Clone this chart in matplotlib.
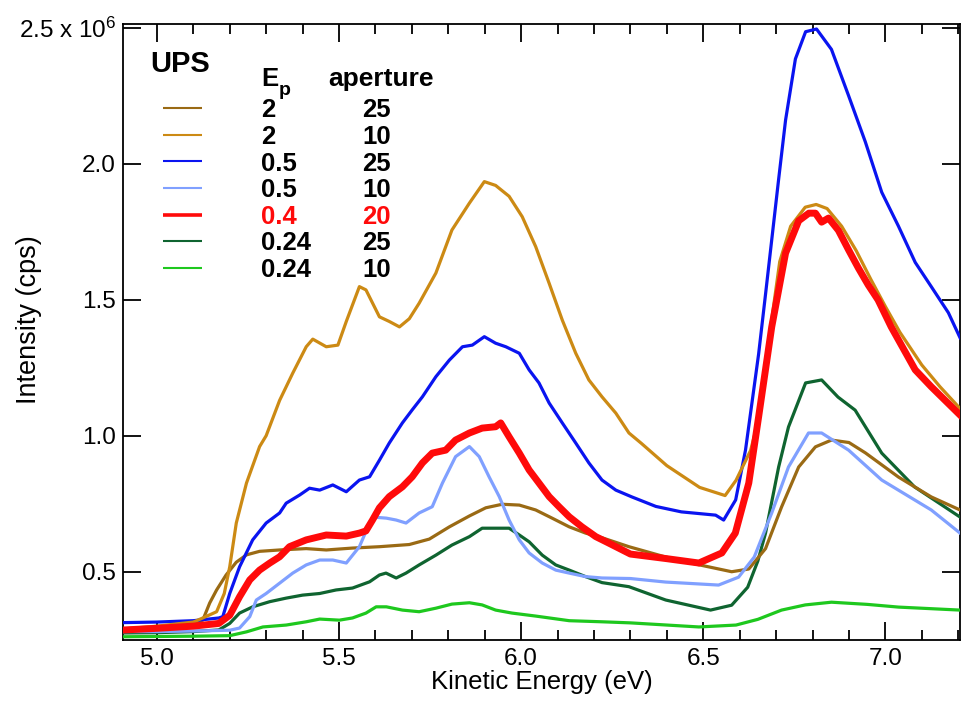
import matplotlib
matplotlib.use("Agg")
import matplotlib.pyplot as plt
from matplotlib.ticker import MultipleLocator, FixedLocator, FixedFormatter

plt.rcParams['font.family'] = ['Liberation Sans', 'DejaVu Sans']
plt.rcParams['mathtext.default'] = 'regular'

# ---- data (intensity in units of 1e6 cps) ----
brown_x = [4.91, 5.0, 5.1, 5.126, 5.145, 5.164, 5.19, 5.218, 5.246, 5.282, 5.337, 5.41,
           5.465, 5.537, 5.611, 5.693, 5.748, 5.803, 5.858, 5.903, 5.948, 5.995, 6.04,
           6.085, 6.132, 6.177, 6.222, 6.296, 6.397, 6.49, 6.578, 6.625, 6.671, 6.715,
           6.762, 6.808, 6.852, 6.9, 6.945, 7.036, 7.126, 7.205]
brown_y = [0.29, 0.295, 0.31, 0.322, 0.385, 0.433, 0.488, 0.535, 0.562, 0.575, 0.58, 0.585,
           0.58, 0.587, 0.592, 0.600, 0.62, 0.665, 0.705, 0.735, 0.748, 0.745, 0.727,
           0.697, 0.665, 0.642, 0.625, 0.592, 0.554, 0.525, 0.5, 0.51, 0.585, 0.738,
           0.885, 0.959, 0.984, 0.975, 0.937, 0.848, 0.775, 0.727]

gold_x = [4.91, 5.0, 5.1, 5.126, 5.164, 5.185, 5.2, 5.218, 5.246, 5.282, 5.30, 5.337,
          5.373, 5.41, 5.428, 5.465, 5.497, 5.52, 5.556, 5.574, 5.611, 5.638, 5.666,
          5.693, 5.72, 5.766, 5.81, 5.858, 5.899, 5.93, 5.967, 6.003, 6.04, 6.077, 6.113,
          6.15, 6.186, 6.222, 6.26, 6.296, 6.33, 6.40, 6.49, 6.56, 6.59, 6.63, 6.65, 6.68,
          6.71, 6.74, 6.78, 6.81, 6.84, 6.88, 6.92, 6.96, 7.0, 7.04, 7.1, 7.15, 7.205]
gold_y = [0.29, 0.30, 0.315, 0.33, 0.353, 0.42, 0.518, 0.679, 0.826, 0.96, 1.0, 1.13,
          1.23, 1.327, 1.355, 1.327, 1.333, 1.42, 1.548, 1.536, 1.437, 1.42, 1.40,
          1.43, 1.487, 1.598, 1.756, 1.855, 1.934, 1.92, 1.88, 1.805, 1.695, 1.56, 1.425,
          1.303, 1.205, 1.143, 1.083, 1.01, 0.972, 0.89, 0.81, 0.78, 0.836, 0.946, 1.05,
          1.35, 1.64, 1.77, 1.84, 1.85, 1.835, 1.77, 1.68, 1.575, 1.475, 1.38, 1.26,
          1.18, 1.10]

blue_x = [4.91, 5.0, 5.1, 5.17, 5.181, 5.2, 5.227, 5.263, 5.30, 5.337, 5.355, 5.392,
          5.419, 5.447, 5.483, 5.52, 5.556, 5.584, 5.611, 5.638, 5.674, 5.701, 5.729,
          5.766, 5.803, 5.839, 5.866, 5.899, 5.93, 5.958, 5.995, 6.022, 6.049, 6.077,
          6.113, 6.15, 6.186, 6.222, 6.26, 6.304, 6.37, 6.44, 6.534, 6.556, 6.589, 6.616,
          6.652, 6.671, 6.707, 6.726, 6.753, 6.781, 6.811, 6.852, 6.899, 6.945, 6.99,
          7.036, 7.082, 7.126, 7.173, 7.205]
blue_y = [0.313, 0.315, 0.32, 0.33, 0.335, 0.42, 0.518, 0.617, 0.679, 0.716, 0.752, 0.782,
          0.807, 0.80, 0.819, 0.794, 0.837, 0.849, 0.91, 0.973, 1.047, 1.095, 1.143,
          1.217, 1.278, 1.327, 1.333, 1.364, 1.34, 1.327, 1.303, 1.242, 1.194, 1.12,
          1.047, 0.973, 0.90, 0.837, 0.80, 0.775, 0.74, 0.72, 0.708, 0.69, 0.764, 0.947,
          1.30, 1.52, 1.943, 2.16, 2.385, 2.485, 2.495, 2.42, 2.25, 2.08, 1.895,
          1.77, 1.637, 1.548, 1.452, 1.36]

lblue_x = [4.91, 5.0, 5.1, 5.2, 5.227, 5.255, 5.273, 5.30, 5.337, 5.373, 5.41, 5.447,
           5.483, 5.52, 5.556, 5.584, 5.602, 5.63, 5.657, 5.684, 5.72, 5.756, 5.784, 5.82,
           5.858, 5.885, 5.912, 5.94, 5.967, 5.995, 6.022, 6.058, 6.095, 6.132, 6.177,
           6.222, 6.30, 6.397, 6.542, 6.597, 6.64, 6.688, 6.734, 6.789, 6.825, 6.899,
           6.99, 7.126, 7.205]
lblue_y = [0.28, 0.28, 0.282, 0.285, 0.293, 0.335, 0.396, 0.42, 0.458, 0.495, 0.525, 0.543,
           0.543, 0.532, 0.592, 0.679, 0.70, 0.697, 0.69, 0.679, 0.716, 0.739, 0.826, 0.923,
           0.96, 0.923, 0.849, 0.776, 0.69, 0.617, 0.569, 0.532, 0.506, 0.495, 0.482,
           0.477, 0.475, 0.462, 0.451, 0.48, 0.554, 0.716, 0.885, 1.01, 1.01, 0.947,
           0.837, 0.727, 0.642]

red_x = [4.91, 5.0, 5.1, 5.17, 5.2, 5.227, 5.255, 5.282, 5.31, 5.337, 5.364, 5.41,
         5.465, 5.52, 5.556, 5.574, 5.592, 5.611, 5.638, 5.674, 5.701, 5.729, 5.756,
         5.793, 5.82, 5.858, 5.893, 5.93, 5.944, 5.967, 5.995, 6.022, 6.049, 6.077,
         6.104, 6.132, 6.167, 6.205, 6.241, 6.30, 6.40, 6.488, 6.551, 6.588, 6.625,
         6.652, 6.688, 6.726, 6.762, 6.79, 6.808, 6.825, 6.844, 6.871, 6.899, 6.926,
         6.953, 6.98, 7.016, 7.082, 7.126, 7.205]
red_y = [0.286, 0.292, 0.30, 0.31, 0.34, 0.408, 0.47, 0.506, 0.532, 0.555, 0.592, 0.617,
         0.635, 0.631, 0.642, 0.65, 0.69, 0.735, 0.776, 0.812, 0.849, 0.90, 0.936,
         0.947, 0.984, 1.01, 1.028, 1.033, 1.047, 0.996, 0.936, 0.874, 0.826, 0.776,
         0.739, 0.702, 0.665, 0.629, 0.605, 0.565, 0.548, 0.532, 0.569, 0.642, 0.826,
         1.069, 1.40, 1.671, 1.79, 1.818, 1.818, 1.785, 1.80, 1.755, 1.683, 1.616,
         1.554, 1.499, 1.40, 1.242, 1.18, 1.076]

dgreen_x = [4.91, 5.0, 5.1, 5.17, 5.2, 5.227, 5.263, 5.31, 5.355, 5.40, 5.447, 5.492,
            5.537, 5.584, 5.611, 5.629, 5.657, 5.684, 5.72, 5.766, 5.81, 5.858, 5.893,
            5.93, 5.967, 5.995, 6.022, 6.058, 6.095, 6.132, 6.177, 6.222, 6.296, 6.397,
            6.52, 6.578, 6.622, 6.65, 6.671, 6.707, 6.734, 6.781, 6.825, 6.87, 6.917,
            6.99, 7.08, 7.205]
dgreen_y = [0.275, 0.276, 0.28, 0.286, 0.31, 0.348, 0.371, 0.39, 0.403, 0.414, 0.42, 0.433,
            0.44, 0.463, 0.488, 0.495, 0.477, 0.495, 0.525, 0.561, 0.598, 0.629, 0.66,
            0.66, 0.66, 0.635, 0.61, 0.561, 0.525, 0.506, 0.482, 0.46, 0.445, 0.396,
            0.359, 0.377, 0.443, 0.54, 0.642, 0.885, 1.032, 1.194, 1.205, 1.142, 1.094,
            0.936, 0.812, 0.701]

bgreen_x = [4.91, 5.0, 5.1, 5.2, 5.246, 5.291, 5.355, 5.41, 5.447, 5.501, 5.537, 5.574,
            5.602, 5.63, 5.674, 5.72, 5.766, 5.81, 5.858, 5.893, 5.93, 5.975, 6.04, 6.132,
            6.222, 6.30, 6.488, 6.59, 6.65, 6.715, 6.78, 6.852, 6.95, 7.036, 7.205]
bgreen_y = [0.261, 0.262, 0.263, 0.265, 0.279, 0.297, 0.304, 0.316, 0.326, 0.322, 0.33, 0.348,
            0.371, 0.371, 0.359, 0.353, 0.366, 0.381, 0.386, 0.378, 0.359, 0.348, 0.337, 0.32,
            0.316, 0.312, 0.297, 0.304, 0.325, 0.359, 0.378, 0.388, 0.38, 0.37, 0.359]

# legend rows: (Ep, aperture)
ep_labels = ['2', '2', '0.5', '0.5', '0.4', '0.24', '0.24']
ap_labels = ['25', '10', '25', '10', '20', '25', '10']

series = [
    (brown_x, brown_y, '#9a6a14', 2.3, 1.5),
    (gold_x, gold_y, '#cc8a14', 2.3, 1.5),
    (blue_x, blue_y, '#0a14f0', 2.3, 1.5),
    (lblue_x, lblue_y, '#80a0ff', 2.3, 1.5),
    (red_x, red_y, '#ff0a0a', 5.0, 2.6),
    (dgreen_x, dgreen_y, '#0f6430', 2.3, 1.5),
    (bgreen_x, bgreen_y, '#1ec81e', 2.3, 1.5),
]
draw_order = [6, 5, 0, 3, 2, 4, 1]

fig = plt.figure(figsize=(9.61, 7.01), dpi=100)
ax = fig.add_axes([0.128, 0.087, 0.871, 0.879])

for i in draw_order:
    xs, ys, c, lw, _ = series[i]
    ax.plot(xs, ys, color=c, lw=lw, solid_joinstyle='round', zorder=3 if i != 4 else 4)

ax.set_xlim(4.907, 7.205)
ax.set_ylim(0.249, 2.514)

ax.xaxis.set_major_locator(MultipleLocator(0.5))
ax.xaxis.set_minor_locator(MultipleLocator(0.1))
ax.yaxis.set_major_locator(FixedLocator([0.5, 1.0, 1.5, 2.0, 2.5]))
ax.yaxis.set_major_formatter(FixedFormatter(['0.5', '1.0', '1.5', '2.0', '2.5 x 10$^{6}$']))
ax.tick_params(which='both', direction='in', top=True, right=True, width=1.3,
               labelsize=17.5, colors='black')
ax.tick_params(which='major', length=13, pad=6)
ax.tick_params(which='minor', length=7)
ax.tick_params(axis='y', which='major', pad=5)
for sp in ax.spines.values():
    sp.set_linewidth(1.3)

ax.set_xlabel('Kinetic Energy (eV)', fontsize=18.5, labelpad=0)
ax.set_ylabel('Intensity (cps)', fontsize=19.5)
ax.yaxis.set_label_coords(-0.097, 0.52)

# hand-drawn legend block
bold = dict(family=['Liberation Sans', 'DejaVu Sans'], fontweight='bold', fontsize=18.5,
            transform=ax.transAxes, va='baseline')
ax.text(0.032, 0.922, 'UPS', **dict(bold, fontsize=21))
ax.text(0.165, 0.899, 'E', **bold)
ax.text(0.1865, 0.884, 'p', **dict(bold, fontsize=14))
ax.text(0.245, 0.899, 'aperture', **dict(bold, fontsize=19))

row_y = [0.864, 0.820, 0.777, 0.734, 0.690, 0.648, 0.604]
for i, yy in enumerate(row_y):
    c = series[i][2]
    lw = series[i][4]
    ax.plot([0.048, 0.094], [yy, yy], color=c, lw=lw, transform=ax.transAxes,
            solid_capstyle='butt')
    tc = '#ff0a0a' if ep_labels[i] == '0.4' else 'black'
    ax.text(0.165, yy - 0.0155, ep_labels[i], color=tc, **bold)
    ax.text(0.2855, yy - 0.0155, ap_labels[i], color=tc, **bold)

fig.savefig('out.png', dpi=100)
